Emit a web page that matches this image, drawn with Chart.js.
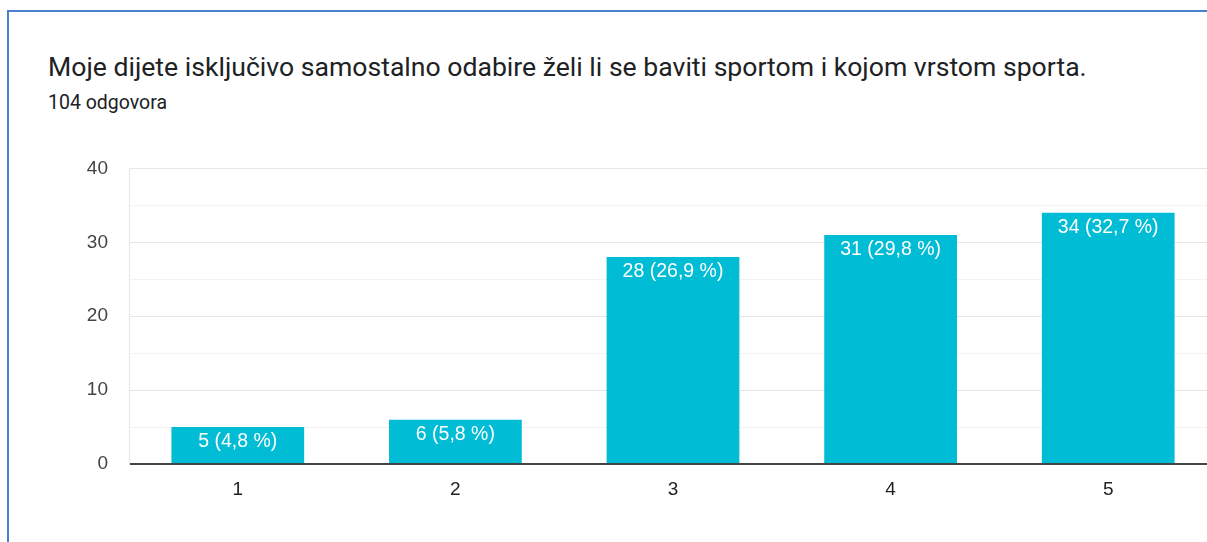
<!DOCTYPE html>
<html>
<head>
<meta charset="utf-8">
<script src="https://cdn.jsdelivr.net/npm/chart.js@4.4.1/dist/chart.umd.min.js"></script>
<style>
  html, body { margin: 0; padding: 0; background: #fff; width: 1207px; height: 542px; overflow: hidden; position: relative; }
  #frame { position: absolute; left: 7px; top: 10px; width: 1250px; height: 600px; border-left: 2px solid #4a7fd2; border-top: 2px solid #4a7fd2; box-sizing: border-box; }
  #title { position: absolute; left: 48px; top: 51px; font-family: Roboto, "Liberation Sans", Arial, sans-serif; font-size: 26.6px; color: #202124; white-space: nowrap; }
  #sub { position: absolute; left: 48px; top: 91px; font-family: Roboto, "Liberation Sans", Arial, sans-serif; font-size: 19.5px; color: #202124; white-space: nowrap; }
  #wrap { position: absolute; left: 0; top: 136px; width: 1217px; height: 368px; }
</style>
</head>
<body>
<div id="frame"></div>
<div id="title">Moje dijete isključivo samostalno odabire želi li se baviti sportom i kojom vrstom sporta.</div>
<div id="sub">104 odgovora</div>
<div id="wrap"><canvas id="c" width="1217" height="368"></canvas></div>
<script>
const categories = ["1", "2", "3", "4", "5"];
const counts = [5, 6, 28, 31, 34];
const percentLabels = ["4,8", "5,8", "26,9", "29,8", "32,7"];
const yTickValues = [0, 10, 20, 30, 40];

const valueLabels = {
  id: "valueLabels",
  afterDatasetsDraw(chart) {
    const ctx = chart.ctx;
    const meta = chart.getDatasetMeta(0);
    ctx.save();
    ctx.fillStyle = "#ffffff";
    ctx.font = "19.5px 'Liberation Sans', Arial, sans-serif";
    ctx.textAlign = "center";
    ctx.textBaseline = "middle";
    meta.data.forEach((bar, i) => {
      ctx.fillText(counts[i] + " (" + percentLabels[i] + " %)", bar.x, bar.y + 15);
    });
    ctx.restore();
  }
};

new Chart(document.getElementById("c"), {
  type: "bar",
  data: {
    labels: categories,
    datasets: [{
      data: counts,
      backgroundColor: "#00bcd4",
      borderWidth: 0,
      barPercentage: 0.61,
      categoryPercentage: 1.0
    }]
  },
  options: {
    responsive: false,
    animation: false,
    layout: { padding: { top: 4, right: 0, bottom: 0, left: 0 } },
    plugins: { legend: { display: false }, tooltip: { enabled: false }, title: { display: false } },
    scales: {
      x: {
        grid: { display: false, drawTicks: false },
        border: { display: false },
        ticks: { color: "#222", font: { family: "'Liberation Sans', Arial, sans-serif", size: 19 }, padding: 14 },
        afterFit(axis) { axis.height = 40; }
      },
      y: {
        min: 0, max: 40,
        ticks: {
          stepSize: 5,
          color: "#444",
          font: { family: "'Liberation Sans', Arial, sans-serif", size: 19 },
          padding: 21,
          callback: (v) => yTickValues.includes(v) ? String(v) : ""
        },
        grid: {
          drawTicks: false,
          color: (c) => c.tick.value === 0 ? "#444" : (c.tick.value % 10 === 0 ? "#e6e6e6" : "#f3f3f3"),
          lineWidth: (c) => c.tick.value === 0 ? 2 : 1
        },
        border: { display: true, color: "#e6e6e6", width: 1 },
        afterFit(axis) { axis.width = 129; }
      }
    }
  },
  plugins: [valueLabels]
});
</script>
</body>
</html>
